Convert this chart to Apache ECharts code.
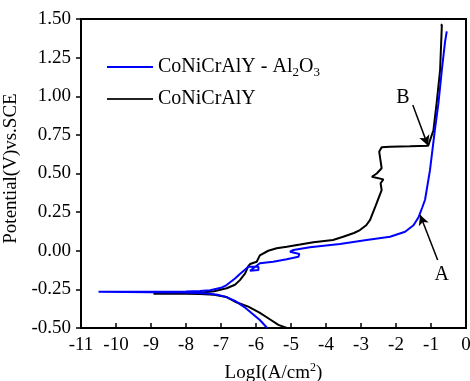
<!DOCTYPE html>
<html>
<head>
<meta charset="utf-8">
<script src="https://cdn.jsdelivr.net/npm/echarts@6/dist/echarts.min.js"></script>
<style>html,body{margin:0;padding:0;background:#fff}#c{width:470px;height:381px}</style>
</head>
<body>
<div id="c"></div>
<script>
// Series data: [log I (A/cm2), potential (V vs SCE)]
const compositeName = 'CoNiCrAlY - Al2O3';
const baseName = 'CoNiCrAlY';
const compositeCurve = [
  [-5.68,-0.50],[-5.89,-0.448],[-6.12,-0.405],[-6.3,-0.37],[-6.46,-0.345],[-6.6,-0.325],[-6.84,-0.30],
  [-7.1,-0.285],[-7.4,-0.276],[-8,-0.271],[-9,-0.268],[-10.5,-0.266],
  [-9,-0.265],[-8,-0.263],[-7.6,-0.26],[-7.31,-0.255],[-7.0,-0.24],[-6.84,-0.222],[-6.6,-0.18],
  [-6.46,-0.15],[-6.3,-0.12],[-6.22,-0.103],[-5.93,-0.103],[-5.93,-0.125],[-6.17,-0.129],[-5.89,-0.081],
  [-5.51,-0.071],[-5.12,-0.055],[-4.79,-0.039],[-4.76,-0.021],[-5.03,-0.006],[-4.93,0.005],
  [-4.46,0.022],[-3.6,0.044],[-2.84,0.07],[-2.17,0.091],[-1.74,0.123],[-1.5,0.165],[-1.36,0.215],
  [-1.25,0.28],[-1.17,0.33],[-1.03,0.52],[-0.89,0.78],[-0.79,0.95],[-0.69,1.17],[-0.6,1.35],[-0.55,1.42]
];
const baseCurve = [
  [-5.12,-0.50],[-5.36,-0.48],[-5.65,-0.437],[-5.9,-0.40],[-6.22,-0.362],[-6.6,-0.33],[-6.84,-0.30],
  [-7.2,-0.285],[-7.6,-0.28],[-8,-0.279],[-8.93,-0.278],
  [-8,-0.277],[-7.6,-0.272],[-7.2,-0.262],[-6.84,-0.243],[-6.6,-0.22],[-6.46,-0.19],[-6.31,-0.146],
  [-6.22,-0.10],[-6.17,-0.086],[-5.98,-0.071],[-5.89,-0.03],[-5.65,0.0],[-5.41,0.016],[-5.12,0.026],
  [-4.74,0.04],[-4.36,0.055],[-3.8,0.07],[-3.51,0.091],[-3.2,0.115],[-3.03,0.134],[-2.85,0.165],
  [-2.74,0.20],[-2.6,0.28],[-2.55,0.31],[-2.41,0.393],[-2.44,0.437],[-2.36,0.462],[-2.69,0.479],
  [-2.55,0.50],[-2.41,0.534],[-2.48,0.641],[-2.41,0.67],[-2.17,0.673],[-1.6,0.676],[-1.08,0.68],
  [-1.03,0.684],[-0.93,0.78],[-0.84,0.954],[-0.74,1.17],[-0.69,1.46],[-0.72,1.465]
];
// Axis ticks
const xTicks = [-11,-10,-9,-8,-7,-6,-5,-4,-3,-2,-1,0];
const yTicks = [-0.50,-0.25,0.00,0.25,0.50,0.75,1.00,1.25,1.50];
// Annotations
const annotLabels = ['A','B'];
const annotTextPos = [[-0.694,-0.157],[-1.8,0.989]];
const annotArrowFrom = [[-0.81,-0.06],[-1.52,0.943]];
const annotArrowTo = [[-1.31,0.231],[-1.09,0.682]];

const FONT = "'Liberation Serif','Times New Roman',serif";
const chart = echarts.init(document.getElementById('c'));
const richSub = {
  t:{fontFamily:FONT,fontSize:20,color:'#000'},
  sub:{fontFamily:FONT,fontSize:13,color:'#000',padding:[12,0,0,0]}
};
chart.setOption({
  animation:false,
  backgroundColor:'#fff',
  grid:{left:81,right:4,top:19,bottom:53,show:true,borderColor:'#000',borderWidth:2,backgroundColor:'transparent',outerBoundsMode:'none'},
  legend:[
    {data:[compositeName],left:102,top:52,icon:'rect',itemWidth:46,itemHeight:2,
     formatter:()=>'{t|CoNiCrAlY - Al}{sub|2}{t|O}{sub|3}',textStyle:{rich:richSub}},
    {data:[baseName],left:102,top:84,icon:'rect',itemWidth:46,itemHeight:2,
     textStyle:{fontFamily:FONT,fontSize:20,color:'#000'}}
  ],
  xAxis:{type:'value',min:xTicks[0],max:xTicks[xTicks.length-1],interval:1,
    name:'LogI(A/cm{sup|2})',nameLocation:'middle',nameGap:34,
    nameTextStyle:{fontFamily:FONT,fontSize:19,color:'#000',
      rich:{sup:{fontFamily:FONT,fontSize:12,color:'#000',padding:[0,0,10,0]}}},
    axisLine:{onZero:false,lineStyle:{color:'#000',width:2}},
    axisTick:{inside:true,length:5,lineStyle:{color:'#000',width:1.5}},
    axisLabel:{fontFamily:FONT,fontSize:19,color:'#000',margin:8},
    splitLine:{show:false}},
  yAxis:{type:'value',min:yTicks[0],max:yTicks[yTicks.length-1],interval:0.25,
    name:'Potential(V)vs.SCE',nameLocation:'middle',nameGap:47,
    nameTextStyle:{fontFamily:FONT,fontSize:19,color:'#000',padding:[0,0,0,10]},
    axisLine:{onZero:false,lineStyle:{color:'#000',width:2}},
    axisTick:{inside:false,length:5,lineStyle:{color:'#000',width:1.5}},
    axisLabel:{fontFamily:FONT,fontSize:19,color:'#000',margin:10,formatter:v=>v.toFixed(2)},
    splitLine:{show:false}},
  series:[
    {name:compositeName,type:'line',data:compositeCurve,showSymbol:false,symbol:'none',
     lineStyle:{color:'#0000ff',width:2},itemStyle:{color:'#0000ff'},z:3},
    {name:baseName,type:'line',data:baseCurve,showSymbol:false,symbol:'none',
     lineStyle:{color:'#000',width:2},itemStyle:{color:'#222'},z:2,
     markLine:{silent:true,symbol:['none','arrow'],symbolSize:[8,10],
       lineStyle:{color:'#000',width:1.5,type:'solid'},label:{show:false},
       data:annotArrowFrom.map((f,i)=>[{coord:f},{coord:annotArrowTo[i]}])},
     markPoint:{silent:true,symbol:'circle',symbolSize:1,itemStyle:{color:'rgba(0,0,0,0)'},
       label:{show:true,position:'inside',fontFamily:FONT,fontSize:20,color:'#000',formatter:p=>p.name},
       data:annotLabels.map((n,i)=>({name:n,coord:annotTextPos[i]}))}}
  ]
});
</script>
</body>
</html>
